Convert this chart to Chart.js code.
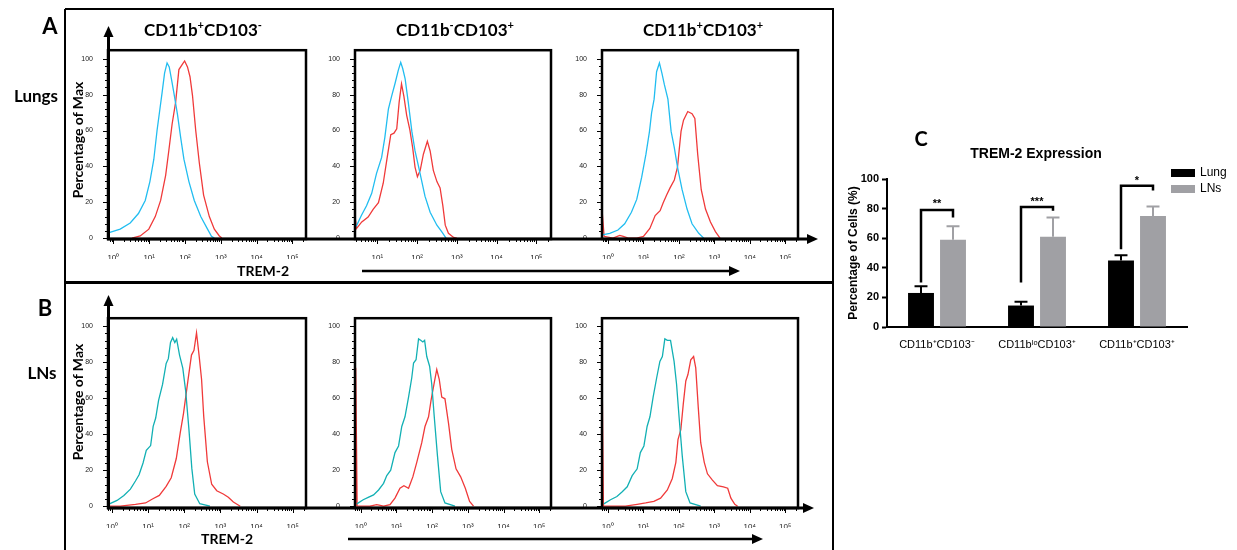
<!DOCTYPE html>
<html>
<head>
<meta charset="utf-8">
<script src="https://cdn.jsdelivr.net/npm/chart.js@4.4.1/dist/chart.umd.min.js"></script>
<style>
  body { margin: 0; background: #fff; width: 1237px; height: 550px; overflow: hidden; position: relative; font-family: Lato, "Open Sans", sans-serif; }
  canvas { position: absolute; }
  .lbl { position: absolute; font-weight: bold; white-space: nowrap; transform: translate(-50%, -50%); color: #000; }
  .lbl sup { font-size: 0.65em; vertical-align: 0.55em; line-height: 0; }
  .rot { transform: translate(-50%, -50%) rotate(-90deg); }
  .arial { font-family: "Liberation Sans", Arial, sans-serif; }
  svg { position: absolute; left: 0; top: 0; }
</style>
</head>
<body>

<canvas id="a1"></canvas>
<canvas id="a2"></canvas>
<canvas id="a3"></canvas>
<canvas id="b1"></canvas>
<canvas id="b2"></canvas>
<canvas id="b3"></canvas>
<canvas id="bar"></canvas>

<svg width="1237" height="550">
  <g stroke="#000" fill="none">
    <path d="M65 9 H833 V550" stroke-width="2"/>
    <path d="M65 9 V550" stroke-width="2"/>
    <path d="M65 282.5 H833" stroke-width="3"/>
    <path d="M107 239 H810" stroke-width="3"/>
    <path d="M107 508 H806" stroke-width="3"/>
    <path d="M108.5 239 V34" stroke-width="3"/>
    <path d="M108.5 508 V303" stroke-width="3"/>
    <path d="M362 271 H731" stroke-width="2.5"/>
    <path d="M348 539 H754" stroke-width="2.5"/>
  </g>
  <g fill="#000">
    <path d="M818 239 L807 234 L807 244 Z"/>
    <path d="M814 508 L803 503 L803 513 Z"/>
    <path d="M108.5 26 L103.5 37 L113.5 37 Z"/>
    <path d="M108.5 295 L103.5 306 L113.5 306 Z"/>
    <path d="M740 271 L729 266 L729 276 Z"/>
    <path d="M763 539 L752 534 L752 544 Z"/>
  </g>
</svg>

<div class="lbl" style="left:50px;top:25px;font-size:22px">A</div>
<div class="lbl" style="left:36px;top:95px;font-size:17px">Lungs</div>
<div class="lbl" style="left:45px;top:307px;font-size:22px">B</div>
<div class="lbl" style="left:42px;top:372px;font-size:17px">LNs</div>

<div class="lbl" style="left:203px;top:29px;font-size:17px">CD11b<sup>+</sup>CD103<sup>-</sup></div>
<div class="lbl" style="left:455px;top:29px;font-size:17px">CD11b<sup>-</sup>CD103<sup>+</sup></div>
<div class="lbl" style="left:703px;top:29px;font-size:17px">CD11b<sup>+</sup>CD103<sup>+</sup></div>

<div class="lbl rot" style="left:77px;top:140px;font-size:14px">Percentage of Max</div>
<div class="lbl rot" style="left:77px;top:402px;font-size:14px">Percentage of Max</div>
<div class="lbl" style="left:263px;top:270px;font-size:14px">TREM-2</div>
<div class="lbl" style="left:227px;top:538px;font-size:14px">TREM-2</div>

<div class="lbl" style="left:921px;top:138px;font-size:20px">C</div>
<div class="lbl arial" style="left:1036px;top:153px;font-size:14px">TREM-2 Expression</div>
<div style="position:absolute;left:1171px;top:169px;width:24px;height:8px;background:#000"></div>
<div style="position:absolute;left:1171px;top:185px;width:24px;height:8px;background:#a0a0a4"></div>
<div class="arial" style="position:absolute;left:1200px;top:165px;font-size:12px;line-height:14px">Lung</div>
<div class="arial" style="position:absolute;left:1200px;top:181px;font-size:12px;line-height:14px">LNs</div>

<script>
// histogram curves: [log10 TREM-2 intensity, % of max]
const lungSingleBlue = [[-0.12,3],[0.19,5],[0.47,8.4],[0.70,13.7],[0.89,21],[1.02,31.5],[1.13,44],[1.22,60],[1.30,72],[1.36,81],[1.43,92],[1.50,97.7],[1.56,95.5],[1.62,89],[1.69,81],[1.79,69],[1.88,56],[1.97,44],[2.11,31.5],[2.26,21],[2.44,12],[2.63,5],[2.74,1],[2.82,0]];
const lungSingleRed = [[0.52,0],[0.75,1.2],[0.99,5],[1.17,12],[1.32,21],[1.46,35],[1.55,49],[1.64,63.5],[1.74,76],[1.83,94],[1.93,97],[1.99,98.8],[2.07,95.5],[2.14,90],[2.21,79.5],[2.30,60],[2.40,42],[2.52,24],[2.68,12],[2.82,5],[2.96,1.2],[3.03,0]];
const lungNegBlue = [[0.44,6],[0.48,7],[0.60,12.6],[0.73,18],[0.86,25],[0.98,36],[1.11,45],[1.19,56],[1.28,72],[1.36,79],[1.45,86.5],[1.53,93.7],[1.59,98],[1.64,94.6],[1.70,89],[1.78,75.7],[1.87,59.5],[1.95,48.6],[2.06,37.8],[2.20,23.4],[2.33,14.4],[2.50,7.2],[2.62,3.6],[2.73,0]];
const lungNegRed = [[0.44,0],[0.44,12],[0.48,5.4],[0.61,9],[0.77,11.7],[0.90,16.2],[1.03,19.8],[1.15,30.6],[1.25,45],[1.34,57.7],[1.42,58.5],[1.49,61],[1.55,75.7],[1.61,86],[1.67,79],[1.74,68.5],[1.82,60.4],[1.89,50.5],[1.95,39.6],[2.01,34.2],[2.08,37.8],[2.16,46.8],[2.26,54],[2.33,48.6],[2.41,37.8],[2.50,31.5],[2.58,28],[2.65,18],[2.71,7.2],[2.79,2.7],[2.92,0.4],[3.00,0]];
const lungDoubleBlue = [[-0.17,1.8],[0.05,2.7],[0.28,4.5],[0.47,8],[0.66,14.4],[0.81,21.6],[0.95,34],[1.07,46.8],[1.17,59.5],[1.23,70],[1.30,77.5],[1.37,92.8],[1.45,97.7],[1.52,92],[1.59,85.6],[1.69,77.5],[1.78,59.5],[1.87,50.5],[1.96,39.6],[2.09,27],[2.23,16.2],[2.37,8],[2.56,2.7],[2.70,0]];
const lungDoubleRed = [[-0.17,16],[-0.11,1],[0.14,0],[0.33,1.5],[0.43,1],[0.57,0],[0.81,0],[1.00,1],[1.18,5.4],[1.33,12.6],[1.47,15.3],[1.56,19.8],[1.66,24.3],[1.75,28],[1.87,32.4],[1.96,39.6],[2.06,59.5],[2.13,65.8],[2.25,70.6],[2.37,69.4],[2.45,66.7],[2.53,46.8],[2.63,27],[2.75,16.2],[2.89,9],[3.03,3.6],[3.16,0]];

const lnSingleBlue = [[-0.1,1],[0.14,3.2],[0.33,6],[0.51,9.5],[0.65,14],[0.75,17.5],[0.86,24],[0.95,31],[1.07,33.7],[1.14,44.4],[1.21,49],[1.29,58.8],[1.40,67.7],[1.50,79.4],[1.56,82],[1.62,91],[1.68,93.7],[1.74,91],[1.79,92.8],[1.87,84],[1.96,76.7],[2.04,64],[2.13,42.7],[2.21,21],[2.29,6.8],[2.43,1.4],[2.71,0]];
const lnSingleRed = [[-0.1,0],[-0.1,103],[-0.07,0],[0.23,0],[0.65,1],[0.93,1.8],[1.12,4],[1.31,6],[1.50,11],[1.64,15.8],[1.78,26.5],[1.89,40.9],[1.98,51.6],[2.10,69.5],[2.20,84],[2.27,86.6],[2.34,96.4],[2.41,84],[2.48,70.4],[2.54,49.8],[2.64,24.7],[2.76,12.2],[2.90,8.6],[3.08,6.8],[3.22,5],[3.36,2.3],[3.55,0]];
const lnNegBlue = [[-0.11,1.3],[0.07,3.6],[0.21,4.9],[0.36,6.3],[0.50,9],[0.64,12.7],[0.73,17],[0.84,20],[0.96,29.8],[1.06,33.5],[1.15,44.3],[1.24,49.7],[1.34,60.6],[1.43,71.4],[1.48,79.6],[1.55,81.4],[1.62,93],[1.68,92.2],[1.74,91.3],[1.79,92.2],[1.85,83.2],[1.93,77.8],[1.99,67.8],[2.06,49.7],[2.15,28],[2.24,8.1],[2.36,1.8],[2.64,0]];
const lnNegRed = [[-0.14,0],[-0.14,77],[-0.1,0],[0.26,0],[0.45,0.9],[0.64,0],[0.82,0.9],[0.96,4.5],[1.10,10],[1.21,11.4],[1.34,10],[1.46,16.3],[1.57,24.4],[1.71,35.3],[1.80,44.3],[1.90,49.7],[1.97,58.8],[2.06,68.7],[2.13,76],[2.20,70.5],[2.27,60.6],[2.36,59.7],[2.46,46],[2.55,31.6],[2.67,20.8],[2.80,16.3],[2.93,10],[3.05,2.7],[3.16,0]];
const lnDoubleBlue = [[-0.11,1.3],[0.08,3.6],[0.26,5.4],[0.41,8],[0.55,10.8],[0.69,17],[0.83,20.8],[0.92,29.8],[1.02,33.5],[1.11,44.3],[1.19,49.7],[1.28,60.6],[1.38,71.4],[1.47,80.5],[1.54,83.2],[1.61,93],[1.68,92.2],[1.73,92.2],[1.77,92.2],[1.87,80.5],[1.94,67.8],[2.01,49.7],[2.10,28],[2.20,8.1],[2.32,1.8],[2.62,0]];
const lnDoubleRed = [[-0.15,0],[-0.15,60],[-0.12,0],[0.50,0],[0.83,1],[1.07,1.8],[1.30,2.7],[1.49,4.5],[1.68,9],[1.82,15.4],[1.92,24.4],[1.98,37],[2.06,42.5],[2.13,57],[2.20,69.6],[2.26,73.2],[2.34,81.4],[2.42,83.2],[2.48,76.9],[2.55,55.2],[2.62,35.3],[2.72,24.4],[2.81,18],[2.95,14.5],[3.09,11.4],[3.26,10.8],[3.38,10],[3.47,4.5],[3.58,1],[3.66,0]];

const decades = [0, 1, 2, 3, 4, 5];
const yTicks = [0, 20, 40, 60, 80, 100];
const sup = ['⁰', '¹', '²', '³', '⁴', '⁵'];

// bar chart
const barCategories = ['CD11b⁺CD103⁻', 'CD11bˡᵒCD103⁺', 'CD11b⁺CD103⁺'];
const lungValues = [23, 14.5, 45];
const lungErr = [4.5, 2.5, 3.5];
const lnValues = [59, 61, 75];
const lnErr = [9, 13, 6.5];
const bracketLeftFrom = [30, 30, 52.5];
const bracketTop = [79, 81, 95.5];
const bracketRightTo = [74, 78.5, 92.3];
const bracketStars = ['**', '***', '*'];
const starLevel = [85, 86.5, 101];

const cyan = '#22bdf0', teal = '#12b0b4', red = '#f03a3a';

const boxPlugin = {
  id: 'box',
  afterDatasetsDraw(chart) {
    const {ctx, chartArea: a, scales: {x, y}} = chart;
    ctx.save();
    ctx.strokeStyle = '#000';
    ctx.lineWidth = 1;
    ctx.beginPath();
    for (let d = -1; d <= 5; d++) {
      for (let k = 1; k <= 9; k++) {
        const v = d + Math.log10(k);
        if (v < x.min || v > x.max) continue;
        const px = Math.round(x.getPixelForValue(v)) + 0.5;
        ctx.moveTo(px, a.bottom);
        ctx.lineTo(px, a.bottom + (k === 1 ? 5 : 3));
      }
    }
    for (let v = 0; v <= 100; v += 4) {
      const py = Math.round(y.getPixelForValue(v)) + 0.5;
      ctx.moveTo(a.left, py);
      ctx.lineTo(a.left - (v % 20 === 0 ? 5 : 3), py);
    }
    ctx.stroke();
    ctx.lineWidth = 2.5;
    ctx.strokeRect(a.left, a.top, a.right - a.left, a.bottom - a.top);
    ctx.restore();
  }
};

function hist(id, box, xr, yr, curves) {
  const cv = document.getElementById(id);
  cv.width = box[2] - box[0] + 36;
  cv.height = box[3] - box[1] + 24;
  cv.style.left = (box[0] - 30) + 'px';
  cv.style.top = (box[1] - 4) + 'px';
  new Chart(cv, {
    type: 'line',
    data: {
      datasets: curves.map(c => ({
        data: c[0].map(p => ({x: p[0], y: p[1]})),
        borderColor: c[1],
        borderWidth: 1.3,
        pointRadius: 0,
        tension: 0,
        fill: false
      }))
    },
    options: {
      responsive: false,
      animation: false,
      layout: {padding: {top: 4, right: 6, left: 0, bottom: 0}},
      plugins: {legend: {display: false}, tooltip: {enabled: false}},
      scales: {
        x: {
          type: 'linear', min: xr[0], max: xr[1],
          afterFit: s => { s.height = 20; },
          afterBuildTicks: s => { s.ticks = decades.filter(v => v >= xr[0] && v <= xr[1]).map(v => ({value: v})); },
          grid: {display: false}, border: {display: false},
          ticks: {autoSkip: false, maxRotation: 0, padding: 6, color: '#222',
                  font: {family: 'Liberation Sans', size: 8}, callback: v => '10' + sup[v]}
        },
        y: {
          min: yr[0], max: yr[1],
          afterFit: s => { s.width = 30; },
          afterBuildTicks: s => { s.ticks = yTicks.map(v => ({value: v})); },
          grid: {display: false}, border: {display: false},
          ticks: {padding: 7, color: '#222', font: {family: 'Liberation Sans', size: 7}}
        }
      }
    },
    plugins: [boxPlugin]
  });
}

const topRow = [43, 239], botRow = [311, 508];
const cols = [[108, 306], [355, 551], [602, 798]];

hist('a1', [cols[0][0], topRow[0], cols[0][1], topRow[1]], [-0.15, 5.38], [-0.5, 104.8], [[lungSingleBlue, cyan], [lungSingleRed, red]]);
hist('a2', [cols[1][0], topRow[0], cols[1][1], topRow[1]], [0.44, 5.37], [-0.5, 104.8], [[lungNegBlue, cyan], [lungNegRed, red]]);
hist('a3', [cols[2][0], topRow[0], cols[2][1], topRow[1]], [-0.17, 5.36], [-0.5, 104.8], [[lungDoubleBlue, cyan], [lungDoubleRed, red]]);
hist('b1', [cols[0][0], botRow[0], cols[0][1], botRow[1]], [-0.11, 5.37], [-1, 104.5], [[lnSingleBlue, teal], [lnSingleRed, red]]);
hist('b2', [cols[1][0], botRow[0], cols[1][1], botRow[1]], [-0.16, 5.33], [-1, 104.5], [[lnNegBlue, teal], [lnNegRed, red]]);
hist('b3', [cols[2][0], botRow[0], cols[2][1], botRow[1]], [-0.16, 5.36], [-1, 104.5], [[lnDoubleBlue, teal], [lnDoubleRed, red]]);

// panel C
const errPlugin = {
  id: 'err',
  afterDatasetsDraw(chart) {
    const ctx = chart.ctx, y = chart.scales.y;
    const errs = [lungErr, lnErr];
    ctx.save();
    chart.data.datasets.forEach((ds, i) => {
      chart.getDatasetMeta(i).data.forEach((bar, j) => {
        const top = y.getPixelForValue(ds.data[j] + errs[i][j]);
        ctx.strokeStyle = ds.backgroundColor;
        ctx.lineWidth = 2;
        ctx.beginPath();
        ctx.moveTo(bar.x, bar.y);
        ctx.lineTo(bar.x, top);
        ctx.moveTo(bar.x - bar.width / 4, top);
        ctx.lineTo(bar.x + bar.width / 4, top);
        ctx.stroke();
      });
    });
    const m0 = chart.getDatasetMeta(0).data, m1 = chart.getDatasetMeta(1).data;
    ctx.strokeStyle = '#000';
    ctx.lineWidth = 2.5;
    ctx.fillStyle = '#000';
    ctx.font = 'bold 11px "Liberation Sans"';
    ctx.textAlign = 'center';
    ctx.textBaseline = 'middle';
    m0.forEach((b, j) => {
      const x1 = b.x, x2 = m1[j].x;
      ctx.beginPath();
      ctx.moveTo(x1, y.getPixelForValue(bracketLeftFrom[j]));
      ctx.lineTo(x1, y.getPixelForValue(bracketTop[j]));
      ctx.lineTo(x2, y.getPixelForValue(bracketTop[j]));
      ctx.lineTo(x2, y.getPixelForValue(bracketRightTo[j]));
      ctx.stroke();
      ctx.fillText(bracketStars[j], (x1 + x2) / 2, y.getPixelForValue(starLevel[j]) + 3);
    });
    ctx.restore();
  }
};

const bc = document.getElementById('bar');
bc.width = 395;
bc.height = 210;
bc.style.left = '842px';
bc.style.top = '140px';
new Chart(bc, {
  type: 'bar',
  data: {
    labels: barCategories,
    datasets: [
      {label: 'Lung', data: lungValues, backgroundColor: '#000000'},
      {label: 'LNs', data: lnValues, backgroundColor: '#a0a0a4'}
    ]
  },
  options: {
    responsive: false,
    animation: false,
    layout: {padding: {top: 39, right: 50, left: 0, bottom: 0}},
    datasets: {bar: {categoryPercentage: 0.64, barPercentage: 0.81}},
    plugins: {legend: {display: false}, tooltip: {enabled: false}},
    scales: {
      x: {
        afterFit: s => { s.height = 23; },
        grid: {display: false},
        border: {color: '#000', width: 2},
        ticks: {color: '#000', padding: 3, font: {family: 'Liberation Sans', size: 11}}
      },
      y: {
        min: 0, max: 100,
        afterFit: s => { s.width = 45; },
        grid: {drawOnChartArea: false, tickLength: 5, color: '#000', tickWidth: 2},
        border: {color: '#000', width: 2},
        ticks: {stepSize: 20, padding: 3, color: '#000', font: {family: 'Liberation Sans', size: 11, weight: 'bold'}},
        title: {display: true, text: 'Percentage of Cells (%)', color: '#000',
                font: {family: 'Liberation Sans', size: 12, weight: 'bold'}}
      }
    }
  },
  plugins: [errPlugin]
});
</script>
</body>
</html>
